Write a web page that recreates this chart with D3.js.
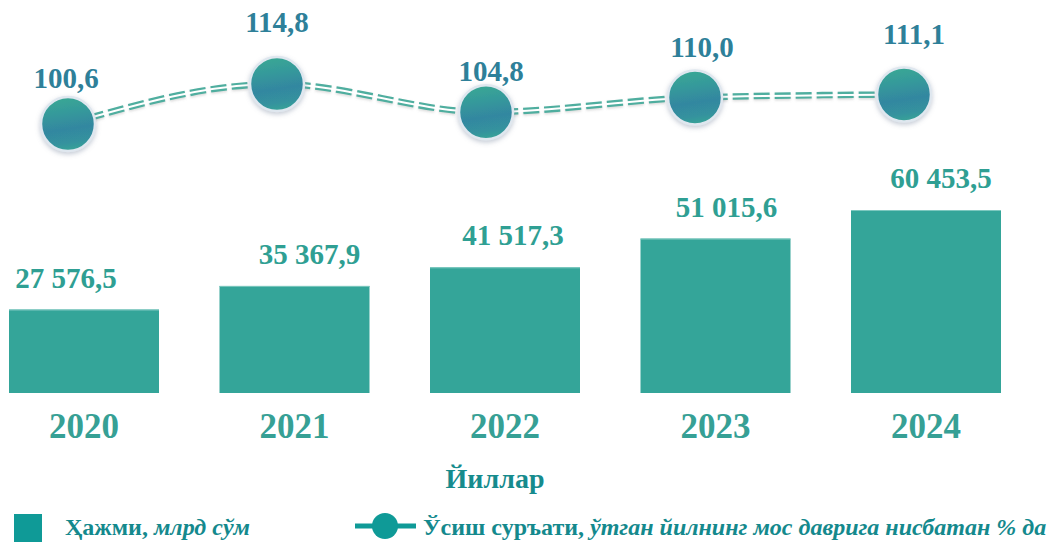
<!DOCTYPE html>
<html>
<head>
<meta charset="utf-8">
<script src="https://cdn.jsdelivr.net/npm/d3@7"></script>
<style>
  html, body { margin: 0; padding: 0; background: #ffffff; }
  svg { display: block; }
  svg text { font-family: "Liberation Serif", "Times New Roman", serif !important; font-weight: bold; }
</style>
</head>
<body>
<script>
// ---- data ----
const years = ["2020", "2021", "2022", "2023", "2024"];
const volume = [27576.5, 35367.9, 41517.3, 51015.6, 60453.5];
const volumeLabels = ["27 576,5", "35 367,9", "41 517,3", "51 015,6", "60 453,5"];
const growth = [100.6, 114.8, 104.8, 110.0, 111.1];
const growthLabels = ["100,6", "114,8", "104,8", "110,0", "111,1"];
const axisTitle = "Йиллар";
const legendBarMain = "Ҳажми, ";
const legendBarItalic = "млрд сўм";
const legendLineMain = "Ўсиш суръати, ";
const legendLineItalic = "ўтган йилнинг мос даврига нисбатан % да";

// layout nudges for labels (pixels)
const barLabelDx = [-18, 15, 8, 11, 15];
const lineLabelDy = [-36, -52, -31, -41, -50];
const lineLabelDx = [-2, 0, 5, 7, 10];

const W = 1051, H = 542;
const FONT = "'Liberation Serif', 'Times New Roman', serif";
const svg = d3.select("body").append("svg").attr("width", W).attr("height", H)
  .attr("font-family", FONT).attr("font-weight", "bold");
const defs = svg.append("defs");

const cg = defs.append("linearGradient").attr("id", "circGrad")
  .attr("x1", 0.35).attr("y1", 0).attr("x2", 0.5).attr("y2", 1);
cg.append("stop").attr("offset", "0%").attr("stop-color", "#3aa894");
cg.append("stop").attr("offset", "30%").attr("stop-color", "#35999b");
cg.append("stop").attr("offset", "60%").attr("stop-color", "#3387a0");
cg.append("stop").attr("offset", "85%").attr("stop-color", "#34929e");
cg.append("stop").attr("offset", "100%").attr("stop-color", "#38a397");

const sh = defs.append("filter").attr("id", "shadow")
  .attr("x", "-40%").attr("y", "-40%").attr("width", "180%").attr("height", "180%");
sh.append("feDropShadow").attr("dx", 0).attr("dy", 2).attr("stdDeviation", 2.5)
  .attr("flood-color", "#7c8aa0").attr("flood-opacity", 0.45);

const lsh = defs.append("filter").attr("id", "lshadow")
  .attr("x", "-10%").attr("y", "-50%").attr("width", "120%").attr("height", "200%");
lsh.append("feDropShadow").attr("dx", 0).attr("dy", 1.5).attr("stdDeviation", 1.2)
  .attr("flood-color", "#888").attr("flood-opacity", 0.3);

// ---- bars ----
const x = d3.scaleBand().domain(years).range([9, 1001]).paddingInner(0.2874).paddingOuter(0);
const y = d3.scaleLinear().domain([0, 60453.5]).range([393, 210]);

svg.append("g").selectAll("rect").data(years).join("rect")
  .attr("x", d => x(d))
  .attr("y", (d, i) => y(volume[i]))
  .attr("width", x.bandwidth())
  .attr("height", (d, i) => y(0) - y(volume[i]))
  .attr("fill", "#34a599");

svg.append("g").selectAll("line").data(years).join("line")
  .attr("x1", d => x(d)).attr("x2", d => x(d) + x.bandwidth())
  .attr("y1", (d, i) => y(volume[i]) + 0.5).attr("y2", (d, i) => y(volume[i]) + 0.5)
  .attr("stroke", "#7cc8bf").attr("stroke-width", 1);

svg.append("g").selectAll("text").data(years).join("text")
  .attr("x", (d, i) => x(d) + x.bandwidth() / 2 + barLabelDx[i])
  .attr("y", (d, i) => y(volume[i]) - 22)
  .attr("text-anchor", "middle")
  .attr("font-size", 29)
  .attr("fill", "#2f9f93")
  .text((d, i) => volumeLabels[i]);

// x axis labels
const xAxis = d3.axisBottom(x).tickSize(0).tickPadding(0);
const ax = svg.append("g").attr("transform", "translate(0,393)").call(xAxis)
  .attr("font-family", FONT).attr("font-weight", "bold");
ax.select(".domain").remove();
ax.selectAll("text")
  .attr("dy", 0).attr("y", 45)
  .attr("font-size", 35)
  .attr("fill", "#36a095");

svg.append("text")
  .attr("x", 495).attr("y", 488)
  .attr("text-anchor", "middle")
  .attr("font-size", 28)
  .attr("fill", "#168b8d")
  .text(axisTitle);

// ---- line ----
const xp = d3.scalePoint().domain(years).range([68, 904]);
const yl = d3.scaleLinear().domain([100.6, 114.8]).range([124, 84]);

const lineGen = d3.line()
  .x((d, i) => xp(years[i]))
  .y(d => yl(d))
  .curve(d3.curveMonotoneX);

const lg = svg.append("g");
lg.append("path").attr("d", lineGen(growth))
  .attr("fill", "none").attr("stroke", "#4fae9f").attr("stroke-width", 6.5)
  .attr("stroke-dasharray", "16 5").attr("filter", "url(#lshadow)");
lg.append("path").attr("d", lineGen(growth))
  .attr("fill", "none").attr("stroke", "#ffffff").attr("stroke-width", 2);

svg.append("g").selectAll("circle").data(growth).join("circle")
  .attr("cx", (d, i) => xp(years[i]))
  .attr("cy", d => yl(d))
  .attr("r", 27)
  .attr("fill", "url(#circGrad)")
  .attr("stroke", "#dfe7ef").attr("stroke-width", 2.5)
  .attr("filter", "url(#shadow)");

svg.append("g").selectAll("text").data(growth).join("text")
  .attr("x", (d, i) => xp(years[i]) + lineLabelDx[i])
  .attr("y", (d, i) => yl(d) + lineLabelDy[i])
  .attr("text-anchor", "middle")
  .attr("font-size", 29)
  .attr("fill", "#2e8099")
  .text((d, i) => growthLabels[i]);

// ---- legend ----
const leg = svg.append("g");
leg.append("rect").attr("x", 14).attr("y", 514).attr("width", 28).attr("height", 28).attr("fill", "#0f9a97");
const t1 = leg.append("text").attr("x", 65).attr("y", 535).attr("font-size", 24).attr("fill", "#14898d");
t1.append("tspan").text(legendBarMain);
t1.append("tspan").attr("font-style", "italic").text(legendBarItalic);

leg.append("line").attr("x1", 355).attr("x2", 416).attr("y1", 526).attr("y2", 526)
  .attr("stroke", "#0f9a97").attr("stroke-width", 5);
leg.append("circle").attr("cx", 385).attr("cy", 526).attr("r", 13).attr("fill", "#0f9a97");
const t2 = leg.append("text").attr("x", 423).attr("y", 535).attr("font-size", 24).attr("fill", "#14898d");
t2.append("tspan").text(legendLineMain);
t2.append("tspan").attr("font-style", "italic").text(legendLineItalic);
</script>
</body>
</html>
